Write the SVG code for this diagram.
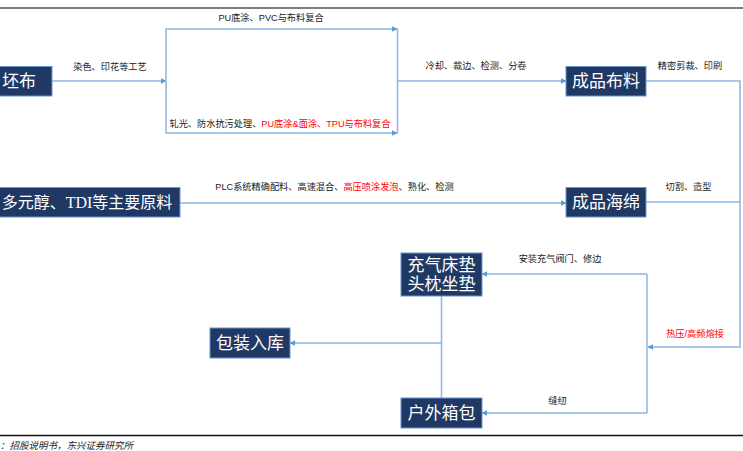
<svg xmlns="http://www.w3.org/2000/svg" width="743" height="451" viewBox="0 0 743 451">
<style>
.node{fill:#1F3864;stroke:#6A96CF;stroke-width:1}
.nt{fill:#FFFFFF;font-family:"Liberation Serif","Noto Sans CJK SC",serif;font-size:17px;text-anchor:middle;dominant-baseline:central}
.ln{fill:none;stroke:#8AB6E4;stroke-width:1.5}
.lb{fill:#222;font-family:"Liberation Sans","Noto Sans CJK SC",sans-serif;font-size:9.2px;text-anchor:middle;dominant-baseline:central}
.red{fill:#FF0000}
</style>
<defs>
<marker id="ah" viewBox="0 0 10 10" refX="9" refY="5" markerWidth="6" markerHeight="6" markerUnits="userSpaceOnUse" orient="auto">
<path d="M0,0 L10,5 L0,10 z" fill="#5B9BD5"/>
</marker>
</defs>
<rect x="0" y="0" width="743" height="451" fill="#FFFFFF"/>
<line x1="0" y1="8" x2="743" y2="8" stroke="#555" stroke-width="1.5"/>
<line x1="0" y1="435.5" x2="743" y2="435.5" stroke="#111" stroke-width="1.5"/>
<text x="0" y="449" font-family="'Liberation Serif','Noto Sans CJK SC',serif" font-size="9.5" font-style="italic" fill="#222">：招股说明书，东兴证券研究所</text>

<g id="connectors">
<line class="ln" x1="52" y1="81" x2="166" y2="81" marker-end="url(#ah)"/>
<line class="ln" x1="166" y1="28.5" x2="166" y2="133.5"/>
<line class="ln" x1="166" y1="29" x2="397" y2="29" marker-end="url(#ah)"/>
<line class="ln" x1="166" y1="133" x2="397" y2="133" marker-end="url(#ah)"/>
<line class="ln" x1="397.5" y1="28.5" x2="397.5" y2="133.5"/>
<line class="ln" x1="397.5" y1="81" x2="566" y2="81" marker-end="url(#ah)"/>
<polyline class="ln" points="646,81 740,81 740,347 648,347" marker-end="url(#ah)"/>
<line class="ln" x1="180" y1="203" x2="566" y2="203" marker-end="url(#ah)"/>
<line class="ln" x1="646" y1="202" x2="740" y2="202"/>
<line class="ln" x1="647" y1="274" x2="647" y2="413"/>
<line class="ln" x1="647" y1="274" x2="482" y2="274" marker-end="url(#ah)"/>
<line class="ln" x1="647" y1="413" x2="482" y2="413" marker-end="url(#ah)"/>
<line class="ln" x1="441.5" y1="296" x2="441.5" y2="398"/>
<line class="ln" x1="441.5" y1="343" x2="290" y2="343" marker-end="url(#ah)"/>
<text class="lb" x="110" y="67">染色、印花等工艺</text>
<text class="lb" x="271" y="18">PU底涂、PVC与布料复合</text>
<text class="lb" x="280" y="124">轧光、防水抗污处理、<tspan class="red">PU底涂&amp;面涂、TPU与布料复合</tspan></text>
<text class="lb" x="476" y="66">冷却、裁边、检测、分卷</text>
<text class="lb" x="690" y="66">精密剪裁、印刷</text>
<text class="lb" x="334.5" y="187">PLC系统精确配料、高速混合、<tspan class="red">高压喷涂发泡</tspan>、熟化、检测</text>
<text class="lb" x="688.5" y="187">切割、造型</text>
<text class="lb" x="560" y="259">安装充气阀门、修边</text>
<text class="lb red" x="695" y="334">热压/高频熔接</text>
<text class="lb" x="557.5" y="401">缝纫</text>
</g>

<g id="n-pibu"><rect class="node" x="-1" y="66.5" width="53" height="29.5"/><text class="nt" x="19" y="81">坯布</text></g>
<g id="n-bulio"><rect class="node" x="566" y="66.5" width="80" height="29.5"/><text class="nt" x="606" y="81">成品布料</text></g>
<g id="n-yuanliao"><rect class="node" x="-1" y="187.5" width="181" height="29.5"/><text class="nt" x="87" y="202" style="font-size:16px">多元醇、TDI等主要原料</text></g>
<g id="n-haimian"><rect class="node" x="566" y="187.5" width="80" height="29.5"/><text class="nt" x="606" y="202">成品海绵</text></g>
<g id="n-chuangdian"><rect class="node" x="401" y="253" width="81" height="43"/><text class="nt" x="441.5" y="265">充气床垫</text><text class="nt" x="441.5" y="284">头枕坐垫</text></g>
<g id="n-baozhuang"><rect class="node" x="210" y="328" width="80" height="30"/><text class="nt" x="250" y="343">包装入库</text></g>
<g id="n-xiangbao"><rect class="node" x="401" y="398" width="81" height="30"/><text class="nt" x="441.5" y="413">户外箱包</text></g>
</svg>
